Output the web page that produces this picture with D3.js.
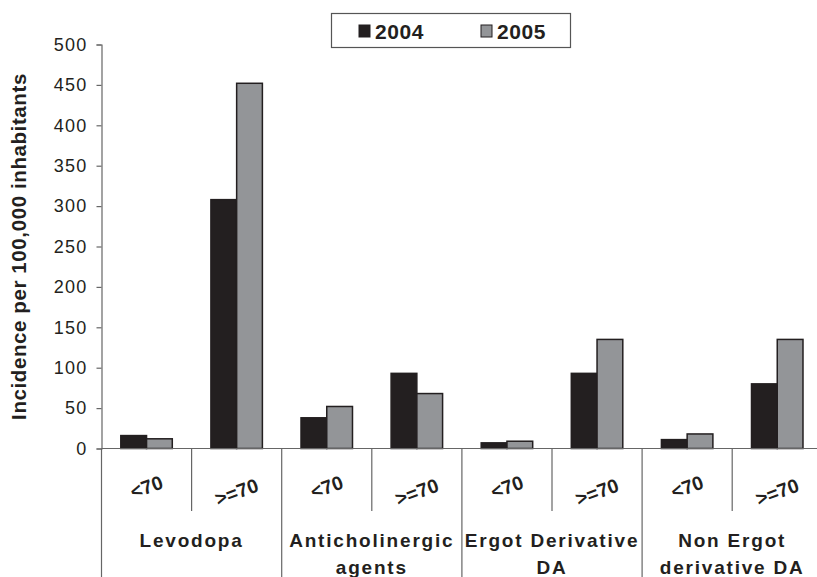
<!DOCTYPE html>
<html>
<head>
<meta charset="utf-8">
<script src="https://cdn.jsdelivr.net/npm/d3@7"></script>
<style>
  body { margin: 0; background: #fff; }
  text { font-family: "Liberation Sans", Arial, sans-serif; fill: #231f20; }
</style>
</head>
<body>
<div id="chart"></div>
<script>
// data
var groups = [["Levodopa"], ["Anticholinergic", "agents"], ["Ergot Derivative", "DA"], ["Non Ergot", "derivative DA"]];
var ages = ["<70", ">=70"];
var years = ["2004", "2005"];
var v2004 = [16, 308, 38, 93, 7, 93, 11, 80];
var v2005 = [12, 452, 52, 68, 9, 135, 18, 135];
var yTicks = [0, 50, 100, 150, 200, 250, 300, 350, 400, 450, 500];

var W = 817, H = 577;
var left = 101.5, cellW = 90.1, y0 = 448.5, yTop = 44.5;

var svg = d3.select("#chart").append("svg")
  .attr("width", W)
  .attr("height", H);

// one cell per group x age
var cells = [];
groups.forEach(function (g, gi) {
  ages.forEach(function (a, ai) {
    cells.push({ key: gi + "-" + ai, group: gi, age: a, idx: gi * 2 + ai });
  });
});

var x = d3.scaleBand()
  .domain(cells.map(function (d) { return d.key; }))
  .range([left, left + cellW * cells.length])
  .padding(0);

var xYear = d3.scaleBand()
  .domain(years)
  .range([0, x.bandwidth()])
  .paddingInner(0)
  .paddingOuter(0.75);

var y = d3.scaleLinear().domain([0, 500]).range([y0, yTop]);

var color = d3.scaleOrdinal().domain(years).range(["#231f20", "#939598"]);

// Y axis
var yaxis = svg.append("g")
  .attr("transform", "translate(" + left + ",0)")
  .call(d3.axisLeft(y).tickValues(yTicks).tickSize(5).tickPadding(9));
yaxis.select(".domain").attr("stroke", "#666").attr("stroke-width", 1.2);
yaxis.selectAll(".tick line").attr("stroke", "#666").attr("stroke-width", 1.2);
yaxis.selectAll(".tick text")
  .style("font-size", "18px")
  .style("letter-spacing", "1.2px")
  .attr("fill", "#231f20");

// y label
svg.append("text")
  .attr("transform", "translate(26," + (y0 + yTop) / 2 + ") rotate(-90)")
  .attr("text-anchor", "middle")
  .style("font-size", "20.5px")
  .style("font-weight", "bold")
  .style("letter-spacing", "0.6px")
  .text("Incidence per 100,000 inhabitants");

// bars
var bars = [];
cells.forEach(function (c) {
  bars.push({ cell: c.key, year: "2004", value: v2004[c.idx] });
  bars.push({ cell: c.key, year: "2005", value: v2005[c.idx] });
});

svg.append("g")
  .selectAll("rect")
  .data(bars)
  .enter()
  .append("rect")
  .attr("x", function (d) { return x(d.cell) + xYear(d.year); })
  .attr("y", function (d) { return y(d.value); })
  .attr("width", xYear.bandwidth())
  .attr("height", function (d) { return y(0) - y(d.value); })
  .attr("fill", function (d) { return color(d.year); })
  .attr("stroke", "#231f20")
  .attr("stroke-width", 1.5);

// X axis line
svg.append("line")
  .attr("x1", left).attr("x2", W)
  .attr("y1", y0).attr("y2", y0)
  .attr("stroke", "#666").attr("stroke-width", 1.2);

// separators: short between ages, long between groups
var seps = d3.range(cells.length + 1);
svg.append("g")
  .selectAll("line")
  .data(seps)
  .enter()
  .append("line")
  .attr("x1", function (i) { return left + i * x.step(); })
  .attr("x2", function (i) { return left + i * x.step(); })
  .attr("y1", y0)
  .attr("y2", function (i) { return i % 2 === 0 ? H : 511; })
  .attr("stroke", "#666")
  .attr("stroke-width", 1.2);

// age labels (rotated)
svg.append("g")
  .selectAll("text")
  .data(cells)
  .enter()
  .append("text")
  .attr("transform", function (d) {
    var cx = x(d.key) + x.bandwidth() / 2;
    var cy = d.age === "<70" ? 487 : 492;
    return "translate(" + cx + "," + cy + ") rotate(-20)";
  })
  .attr("text-anchor", "middle")
  .attr("dy", "0.35em")
  .style("font-size", "19.5px")
  .style("font-weight", "bold")
  .text(function (d) { return d.age; });

// group labels
var gl = svg.append("g")
  .selectAll("text")
  .data(groups)
  .enter()
  .append("text")
  .attr("text-anchor", "middle")
  .style("font-size", "19px")
  .style("font-weight", "bold")
  .style("letter-spacing", "1.8px");

gl.selectAll("tspan")
  .data(function (d, i) { return d.map(function (t) { return { t: t, g: i }; }); })
  .enter()
  .append("tspan")
  .attr("x", function (d) { return left + (d.g * 2 + 1) * x.step(); })
  .attr("y", function (d, i) { return 547 + i * 27; })
  .text(function (d) { return d.t; });

// legend
var lg = svg.append("g");
lg.append("rect")
  .attr("x", 331.5).attr("y", 13.5)
  .attr("width", 239).attr("height", 34)
  .attr("fill", "#fff")
  .attr("stroke", "#555")
  .attr("stroke-width", 1.2);

var items = lg.selectAll("g")
  .data(years)
  .enter()
  .append("g")
  .attr("transform", function (d, i) { return "translate(" + (359 + i * 122) + ",0)"; });

items.append("rect")
  .attr("x", 0).attr("y", 25)
  .attr("width", 11).attr("height", 12)
  .attr("fill", function (d) { return color(d); })
  .attr("stroke", "#231f20")
  .attr("stroke-width", 1);

items.append("text")
  .attr("x", 16).attr("y", 38.5)
  .style("font-size", "21px")
  .style("font-weight", "bold")
  .style("letter-spacing", "0.6px")
  .text(function (d) { return d; });
</script>
</body>
</html>
